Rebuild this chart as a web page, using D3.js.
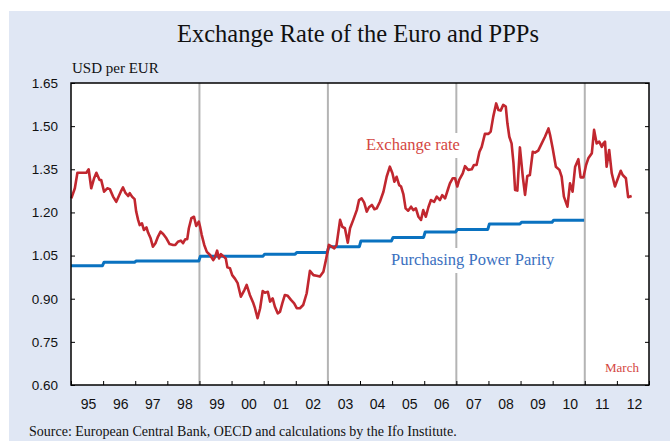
<!DOCTYPE html>
<html>
<head>
<meta charset="utf-8">
<script src="https://cdn.jsdelivr.net/npm/d3@7"></script>
<style>
  html, body { margin: 0; padding: 0; background: #ffffff; }
  svg { display: block; }
</style>
</head>
<body>
<svg id="chart" width="670" height="441"></svg>
<script>
// ---------------- DATA ----------------
const yTicks = [0.60, 0.75, 0.90, 1.05, 1.20, 1.35, 1.50, 1.65];
const yearLabels = ["95","96","97","98","99","00","01","02","03","04","05","06","07","08","09","10","11","12"];
const firstYear = 1995;
const markerYears = [1999, 2003, 2007, 2011];

// Exchange rate (USD per EUR), dates as decimal years
const erDates = [
  1995.01,1995.12,1995.20,1995.37,1995.48,1995.55,1995.63,1995.72,1995.79,1995.89,1995.94,
  1996.03,1996.13,1996.21,1996.31,1996.41,1996.55,1996.62,1996.69,1996.78,1996.83,1996.90,1996.98,
  1997.03,1997.09,1997.14,1997.21,1997.27,1997.35,1997.40,1997.48,1997.55,1997.63,1997.71,1997.79,1997.87,1997.97,
  1998.07,1998.18,1998.25,1998.33,1998.42,1998.49,1998.56,1998.62,1998.67,1998.75,1998.83,1998.90,1998.98,
  1999.02,1999.07,1999.15,1999.23,1999.33,1999.43,1999.48,1999.55,1999.61,1999.67,1999.74,1999.82,1999.87,1999.95,
  2000.02,2000.11,2000.19,2000.29,2000.40,2000.47,2000.57,2000.68,2000.73,2000.81,2000.89,2000.97,
  2001.04,2001.13,2001.20,2001.28,2001.35,2001.44,2001.51,2001.58,2001.66,2001.75,2001.85,2001.95,
  2002.03,2002.13,2002.23,2002.34,2002.44,2002.55,2002.65,2002.75,2002.86,2002.94,
  2003.03,2003.12,2003.20,2003.27,2003.38,2003.45,2003.53,2003.62,2003.69,2003.79,2003.90,2003.97,
  2004.05,2004.13,2004.21,2004.28,2004.37,2004.45,2004.52,2004.62,2004.73,2004.83,2004.93,
  2005.01,2005.07,2005.14,2005.22,2005.28,2005.35,2005.42,2005.50,2005.59,2005.66,2005.74,2005.82,2005.90,2005.97,
  2006.05,2006.13,2006.21,2006.31,2006.39,2006.49,2006.56,2006.65,2006.75,2006.80,2006.89,2006.96,
  2007.03,2007.09,2007.20,2007.27,2007.37,2007.48,2007.55,2007.63,2007.72,2007.79,2007.89,
  2008.00,2008.07,2008.15,2008.24,2008.31,2008.38,2008.46,2008.54,2008.59,2008.65,2008.72,2008.78,2008.83,2008.90,2008.98,
  2009.07,2009.14,2009.21,2009.29,2009.38,2009.45,2009.55,2009.66,2009.76,2009.87,2009.92,
  2010.00,2010.10,2010.21,2010.28,2010.35,2010.46,2010.54,2010.62,2010.70,2010.80,2010.87,2010.96,
  2011.04,2011.11,2011.22,2011.29,2011.37,2011.45,2011.53,2011.58,2011.63,2011.68,2011.76,2011.84,2011.94,
  2012.05,2012.12,2012.18,2012.28,2012.35,2012.46
];
const erValues = [
  1.249,1.284,1.338,1.338,1.338,1.350,1.284,1.319,1.338,1.313,1.313,
  1.272,1.284,1.281,1.255,1.237,1.272,1.287,1.269,1.257,1.267,1.255,1.246,
  1.203,1.174,1.156,1.162,1.139,1.148,1.130,1.110,1.081,1.093,1.116,1.133,1.125,1.110,
  1.090,1.087,1.087,1.098,1.102,1.093,1.107,1.107,1.145,1.180,1.185,1.153,1.168,
  1.150,1.122,1.087,1.063,1.052,1.034,1.043,1.067,1.040,1.055,1.048,1.040,1.009,1.006,
  0.982,0.969,0.954,0.907,0.930,0.948,0.913,0.884,0.867,0.832,0.867,0.927,
  0.921,0.924,0.890,0.901,0.872,0.849,0.855,0.884,0.913,0.910,0.896,0.884,
  0.867,0.867,0.878,0.919,0.997,0.982,0.980,0.977,0.994,1.035,
  1.087,1.081,1.075,1.087,1.174,1.150,1.145,1.095,1.145,1.174,1.208,1.243,
  1.249,1.234,1.203,1.218,1.226,1.211,1.214,1.237,1.272,1.324,1.359,
  1.336,1.307,1.324,1.295,1.290,1.264,1.214,1.206,1.220,1.208,1.214,1.185,1.174,1.208,
  1.185,1.218,1.243,1.237,1.255,1.243,1.260,1.249,1.284,1.301,1.319,1.319,
  1.290,1.313,1.336,1.361,1.348,1.350,1.365,1.365,1.411,1.428,1.473,
  1.473,1.481,1.533,1.579,1.556,1.554,1.574,1.568,1.510,1.463,1.440,1.371,1.278,1.276,1.426,
  1.324,1.261,1.327,1.330,1.411,1.408,1.415,1.440,1.463,1.492,1.469,
  1.423,1.359,1.348,1.324,1.255,1.220,1.301,1.272,1.359,1.385,1.322,1.322,
  1.365,1.388,1.406,1.487,1.440,1.446,1.428,1.440,1.446,1.359,1.417,1.336,1.290,
  1.324,1.345,1.330,1.319,1.253,1.257
];

// Purchasing power parity (annual)
const pppYears  = [1995,1996,1997,1998,1999,2000,2001,2002,2003,2004,2005,2006,2007,2008,2009,2010];
const pppValues = [1.015,1.027,1.031,1.031,1.048,1.048,1.055,1.061,1.081,1.101,1.113,1.132,1.141,1.160,1.166,1.173];

// ---------------- LAYOUT ----------------
const W = 670, H = 441;
const plot = { left: 71, right: 649, top: 83, bottom: 385 };
const serif = "'Liberation Serif', 'Times New Roman', serif";
const sans = "'Liberation Sans', Arial, sans-serif";

const svg = d3.select("#chart");

// background panel
svg.append("rect").attr("x", 9).attr("y", 11).attr("width", W - 9).attr("height", H - 11)
  .attr("fill", "#e0e7f4");

// title
svg.append("text").attr("x", 358).attr("y", 42).attr("text-anchor", "middle")
  .attr("font-family", serif).attr("font-size", 24.5).attr("fill", "#111")
  .text("Exchange Rate of the Euro and PPPs");

svg.append("text").attr("x", 72).attr("y", 73)
  .attr("font-family", serif).attr("font-size", 15).attr("fill", "#111")
  .text("USD per EUR");

// plot background
svg.append("rect").attr("x", plot.left).attr("y", plot.top)
  .attr("width", plot.right - plot.left).attr("height", plot.bottom - plot.top)
  .attr("fill", "#ffffff");

const x = d3.scaleLinear().domain([firstYear, firstYear + yearLabels.length]).range([plot.left, plot.right]);
const y = d3.scaleLinear().domain([0.60, 1.65]).range([plot.bottom, plot.top]);

// grey marker lines
svg.append("g").selectAll("line").data(markerYears).join("line")
  .attr("x1", d => x(d)).attr("x2", d => x(d))
  .attr("y1", plot.top).attr("y2", plot.bottom)
  .attr("stroke", "#b4b4b4").attr("stroke-width", 2);

// label backgrounds + labels
function label(txt, xx, yy, size, color, bg) {
  const t = svg.append("text").attr("x", xx).attr("y", yy)
    .attr("font-family", serif).attr("font-size", size).attr("fill", color).text(txt);
  if (bg) {
    const b = t.node().getBBox();
    svg.insert("rect", () => t.node())
      .attr("x", b.x - 3).attr("y", b.y - 2).attr("width", b.width + 6).attr("height", b.height + 6)
      .attr("fill", "#ffffff");
  }
  return t;
}
label("Exchange rate", 366, 150, 16.5, "#d4463f", true);
label("Purchasing Power Parity", 391, 265, 16.5, "#3a70c0", true);
label("March", 605, 372, 13, "#d4463f", false);

// axes
const yAxisL = d3.axisLeft(y).tickValues(yTicks).tickFormat(d3.format(".2f"))
  .tickSizeInner(-4).tickSizeOuter(0).tickPadding(13);
const gyl = svg.append("g").attr("transform", `translate(${plot.left},0)`).call(yAxisL);
gyl.select(".domain").remove();
gyl.selectAll("text").attr("font-family", sans).attr("font-size", 13.5).attr("fill", "#111");
gyl.selectAll("line").attr("stroke", "#000");

const yAxisR = d3.axisRight(y).tickValues(yTicks).tickFormat("")
  .tickSizeInner(-4).tickSizeOuter(0);
const gyr = svg.append("g").attr("transform", `translate(${plot.right},0)`).call(yAxisR);
gyr.select(".domain").remove();
gyr.selectAll("line").attr("stroke", "#000");

const yearTicks = d3.range(firstYear, firstYear + yearLabels.length + 1);
const xAxisTicks = d3.axisBottom(x).tickValues(yearTicks).tickFormat("")
  .tickSizeInner(-4).tickSizeOuter(0);
const gxt = svg.append("g").attr("transform", `translate(0,${plot.bottom})`).call(xAxisTicks);
gxt.select(".domain").remove();
gxt.selectAll("line").attr("stroke", "#000");

const centers = yearLabels.map((d, i) => firstYear + i + 0.5);
const xAxisLabels = d3.axisBottom(x).tickValues(centers)
  .tickFormat((d, i) => yearLabels[i]).tickSize(0).tickPadding(14);
const gxl = svg.append("g").attr("transform", `translate(1,${plot.bottom})`).call(xAxisLabels);
gxl.select(".domain").remove();
gxl.selectAll("text").attr("font-family", sans).attr("font-size", 14).attr("fill", "#111");

// PPP line
const pppPts = [];
pppYears.forEach((yr, i) => {
  pppPts.push([i === 0 ? yr : yr + 0.03, pppValues[i]]);
  pppPts.push([yr + 0.98, pppValues[i]]);
});
const line = d3.line().x(d => x(d[0])).y(d => y(d[1]));
svg.append("path").datum(pppPts).attr("d", line)
  .attr("fill", "none").attr("stroke", "#0a72c0").attr("stroke-width", 3)
  .attr("stroke-linejoin", "round");

// Exchange-rate line
const erPts = erDates.map((d, i) => [d, erValues[i]]);
svg.append("path").datum(erPts).attr("d", line)
  .attr("fill", "none").attr("stroke", "#c1272f").attr("stroke-width", 2.6)
  .attr("stroke-linejoin", "round");

// plot border
svg.append("rect").attr("x", plot.left).attr("y", plot.top)
  .attr("width", plot.right - plot.left).attr("height", plot.bottom - plot.top)
  .attr("fill", "none").attr("stroke", "#000").attr("stroke-width", 1.5);

// source
svg.append("text").attr("x", 29).attr("y", 436)
  .attr("font-family", serif).attr("font-size", 14).attr("fill", "#111")
  .text("Source: European Central Bank, OECD and calculations by the Ifo Institute.");
</script>
</body>
</html>
